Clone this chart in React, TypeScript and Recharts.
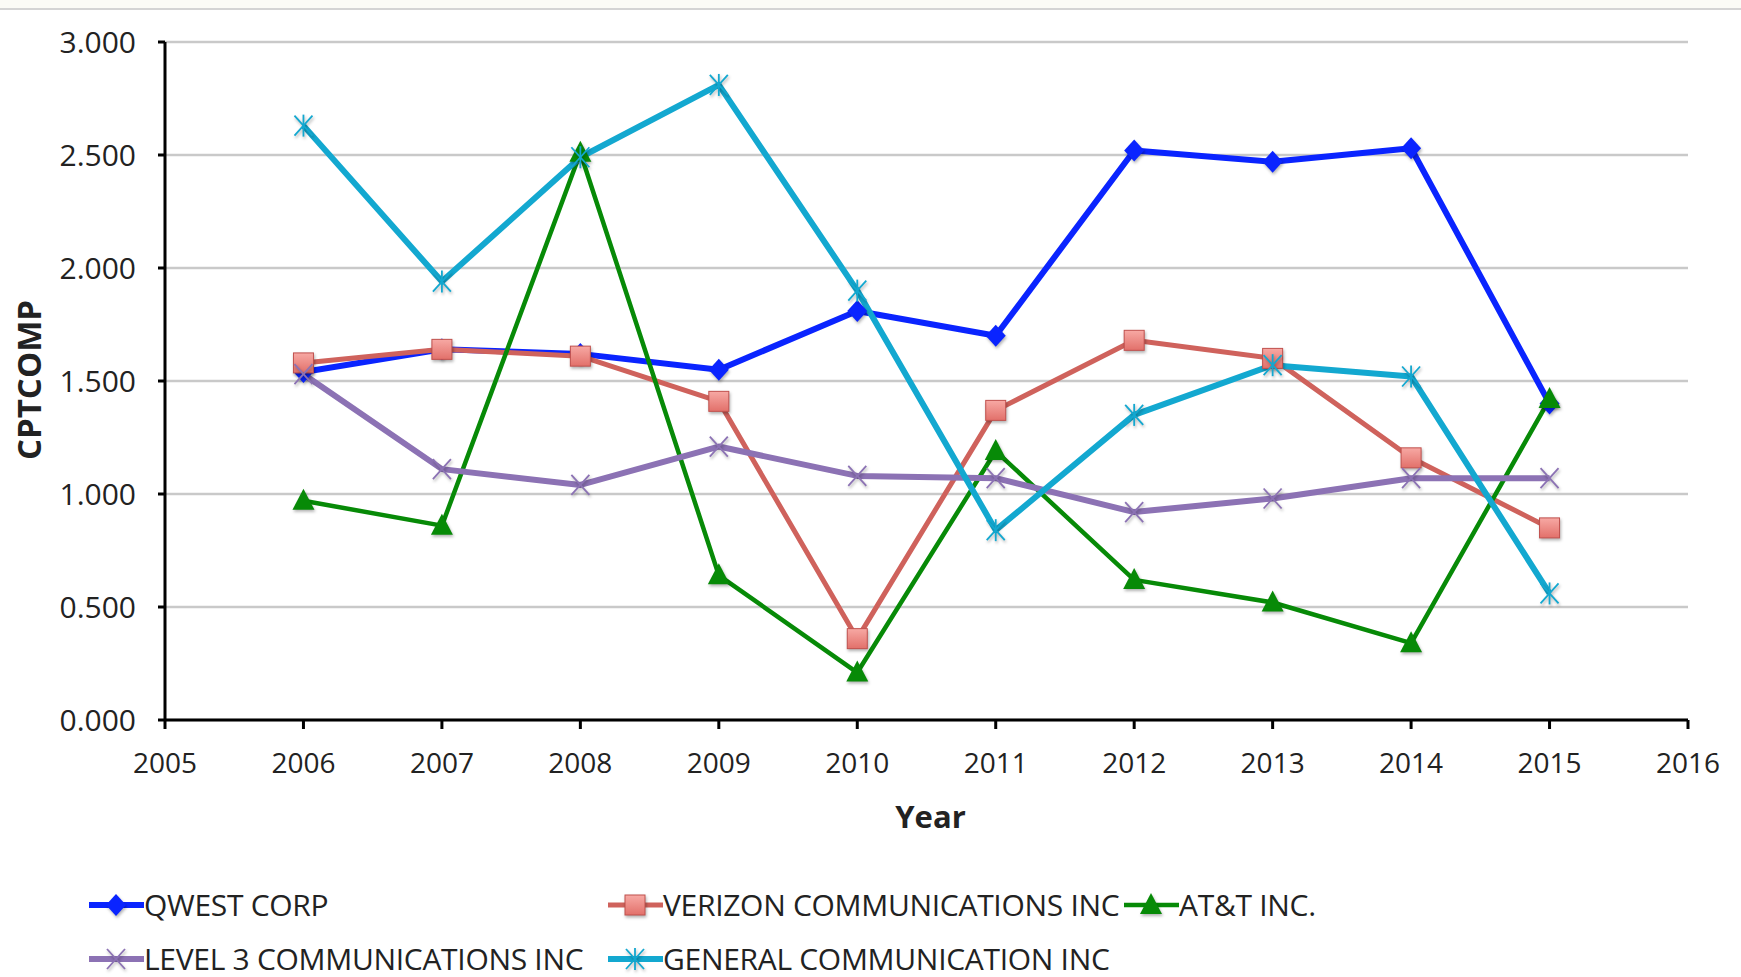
import React from "react";
import { LineChart, Line, XAxis, YAxis, CartesianGrid, Label } from "recharts";

const years = [2006, 2007, 2008, 2009, 2010, 2011, 2012, 2013, 2014, 2015];
const qwest = [1.54, 1.64, 1.62, 1.55, 1.81, 1.7, 2.52, 2.47, 2.53, 1.4];
const verizon = [1.58, 1.64, 1.61, 1.41, 0.36, 1.37, 1.68, 1.6, 1.16, 0.85];
const att = [0.97, 0.86, 2.51, 0.64, 0.21, 1.19, 0.62, 0.52, 0.34, 1.42];
const level3 = [1.53, 1.11, 1.04, 1.21, 1.08, 1.07, 0.92, 0.98, 1.07, 1.07];
const general = [2.63, 1.94, 2.49, 2.81, 1.9, 0.84, 1.35, 1.57, 1.52, 0.56];

const xTicks = [2005, 2006, 2007, 2008, 2009, 2010, 2011, 2012, 2013, 2014, 2015, 2016];
const yTicks = [0, 0.5, 1, 1.5, 2, 2.5, 3];

type MarkerKind = "diamond" | "square" | "triangle" | "x" | "star";

const series: { key: string; name: string; color: string; marker: MarkerKind; width: number; values: number[] }[] = [
  { key: "qwest", name: "QWEST CORP", color: "#0A24FF", marker: "diamond", width: 6, values: qwest },
  { key: "verizon", name: "VERIZON COMMUNICATIONS INC", color: "#CF625C", marker: "square", width: 5, values: verizon },
  { key: "att", name: "AT&T INC.", color: "#078A07", marker: "triangle", width: 4.5, values: att },
  { key: "level3", name: "LEVEL 3 COMMUNICATIONS INC", color: "#8C72B4", marker: "x", width: 6, values: level3 },
  { key: "general", name: "GENERAL COMMUNICATION INC", color: "#13A8D0", marker: "star", width: 6, values: general },
];

const data = years.map((year, i) => {
  const row: Record<string, number> = { year };
  series.forEach((s) => (row[s.key] = s.values[i]));
  return row;
});

const FONT = "'Open Sans', sans-serif";
const shadow = { filter: "drop-shadow(1px 2px 1.5px rgba(0,0,0,0.3))" };

const Marker = ({ cx, cy, kind, color }: { cx: number; cy: number; kind: MarkerKind; color: string }) => {
  if (cx == null || cy == null) return null;
  switch (kind) {
    case "diamond":
      return <path d={`M${cx},${cy - 11} L${cx + 10},${cy} L${cx},${cy + 11} L${cx - 10},${cy} Z`} fill={color} style={shadow} />;
    case "square":
      return (
        <rect x={cx - 10} y={cy - 10} width={20} height={20} fill="url(#sqFill)" stroke="#C0504D" strokeWidth={1} style={shadow} />
      );
    case "triangle":
      return <path d={`M${cx},${cy - 12} L${cx + 11},${cy + 9} L${cx - 11},${cy + 9} Z`} fill={color} style={shadow} />;
    case "x":
      return (
        <g stroke={color} strokeWidth={1.8} style={shadow}>
          <line x1={cx - 9} y1={cy - 10} x2={cx + 9} y2={cy + 10} />
          <line x1={cx - 9} y1={cy + 10} x2={cx + 9} y2={cy - 10} />
        </g>
      );
    default:
      return (
        <g stroke={color} strokeWidth={1.8} style={shadow}>
          <line x1={cx - 9} y1={cy - 10} x2={cx + 9} y2={cy + 10} />
          <line x1={cx - 9} y1={cy + 10} x2={cx + 9} y2={cy - 10} />
          <line x1={cx} y1={cy - 11} x2={cx} y2={cy + 11} />
        </g>
      );
  }
};

const LegendItem = ({ s }: { s: (typeof series)[number] }) => (
  <div style={{ display: "flex", alignItems: "center", whiteSpace: "nowrap", height: 30 }}>
    <svg width={55} height={30} style={{ overflow: "visible" }}>
      <line x1={0} y1={15} x2={55} y2={15} stroke={s.color} strokeWidth={s.width} />
      <Marker cx={27} cy={15} kind={s.marker} color={s.color} />
    </svg>
    <span style={{ fontFamily: FONT, fontSize: 30, lineHeight: "30px", color: "#222", letterSpacing: -0.3 }}>{s.name}</span>
  </div>
);

export default function App() {
  const cols = [89, 608, 1124];
  return (
    <div style={{ position: "fixed", left: 0, top: 0, width: 1741, height: 977, background: "#fff", overflow: "hidden" }}>
      <div style={{ position: "absolute", left: 0, top: 0, width: 1741, height: 8, background: "#FBFBF6" }} />
      <div style={{ position: "absolute", left: 0, top: 8, width: 1741, height: 2, background: "#D4D4D4" }} />
      <LineChart width={1741} height={880} data={data} margin={{ top: 42, right: 53, bottom: 0, left: 0 }}>
        <defs>
          <linearGradient id="sqFill" x1="0" x2="0" y1="0" y2="1">
            <stop offset="0%" stopColor="#F7A9A4" />
            <stop offset="100%" stopColor="#E2706A" />
          </linearGradient>
        </defs>
        <CartesianGrid vertical={false} stroke="#C9C9C9" strokeWidth={2.5} />
        <XAxis
          dataKey="year"
          type="number"
          domain={[2005, 2016]}
          ticks={xTicks}
          height={160}
          axisLine={{ stroke: "#000", strokeWidth: 3 }}
          tickLine={{ stroke: "#000", strokeWidth: 3 }}
          tickSize={9}
          tickMargin={24}
          tick={{ fontSize: 28, fill: "#222", fontFamily: FONT }}
        >
          <Label
            content={({ viewBox }: any) => (
              <text x={viewBox.x + viewBox.width / 2 + 4} y={828} textAnchor="middle" fontFamily={FONT} fontWeight="bold" fontSize={31} fill="#222">
                Year
              </text>
            )}
          />
        </XAxis>
        <YAxis
          domain={[0, 3]}
          ticks={yTicks}
          width={165}
          tickFormatter={(v: number) => v.toFixed(3)}
          axisLine={{ stroke: "#000", strokeWidth: 3 }}
          tickLine={{ stroke: "#000", strokeWidth: 3 }}
          tickSize={7}
          tickMargin={22}
          tick={{ fontSize: 30, fill: "#222", fontFamily: FONT }}
        >
          <Label
            content={() => (
              <text x={41} y={380} transform="rotate(-90 41 380)" textAnchor="middle" fontFamily={FONT} fontWeight="bold" fontSize={33} fill="#222">
                CPTCOMP
              </text>
            )}
          />
        </YAxis>
        {series.map((s) => (
          <Line
            key={s.key}
            dataKey={s.key}
            name={s.name}
            stroke={s.color}
            strokeWidth={s.width}
            strokeLinejoin="round"
            isAnimationActive={false}
            dot={(p: any) => <Marker key={`${s.key}-${p.index}`} cx={p.cx} cy={p.cy} kind={s.marker} color={s.color} />}
            activeDot={false}
          />
        ))}
      </LineChart>
      {series.map((s, i) => (
        <div key={s.key} style={{ position: "absolute", left: cols[i % 3], top: i < 3 ? 890 : 944 }}>
          <LegendItem s={s} />
        </div>
      ))}
    </div>
  );
}
